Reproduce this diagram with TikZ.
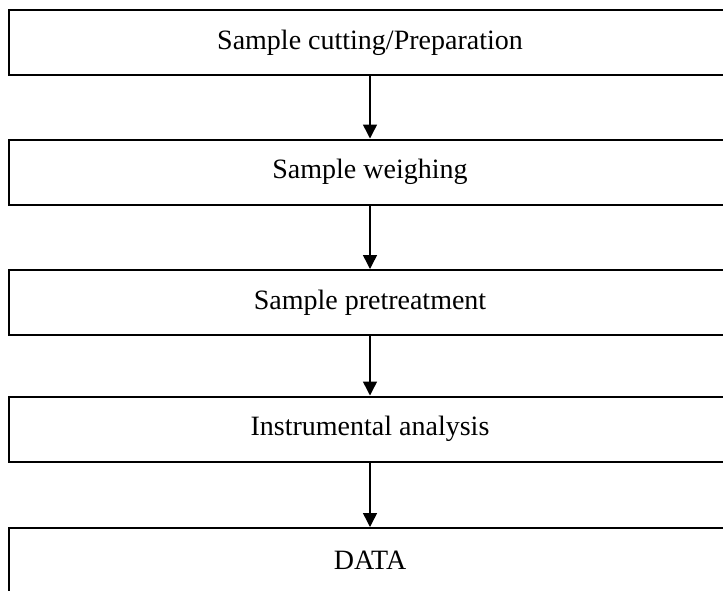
\documentclass[tikz,border=0pt]{standalone}
\usepackage{fontspec}
\setmainfont{Liberation Serif}
\usetikzlibrary{arrows.meta}
\begin{document}
\begin{tikzpicture}[x=1pt,y=-1pt,
  stagebox/.style={draw=black, line width=2pt, minimum width=722pt,
    minimum height=65pt, inner sep=0pt, font=\fontsize{28}{34}\selectfont},
  flow/.style={line width=1.5pt, -{Triangle[length=14pt,width=14pt]}}]
  \useasboundingbox (0,0) rectangle (723,590);
  \clip (0,0) rectangle (723,590);
  \node[stagebox] (cut)   at (370,42.5)  {Sample cutting/Preparation};
  \node[stagebox] (weigh) at (370,172)   {Sample weighing};
  \node[stagebox] (pre)   at (370,302.5) {Sample pretreatment};
  \node[stagebox] (inst)  at (370,429)   {Instrumental analysis};
  \node[stagebox] (data)  at (370,560.5) {DATA};
  \draw[flow] (cut.south)   -- (weigh.north);
  \draw[flow] (weigh.south) -- (pre.north);
  \draw[flow] (pre.south)   -- (inst.north);
  \draw[flow] (inst.south)  -- (data.north);
\end{tikzpicture}
\end{document}
